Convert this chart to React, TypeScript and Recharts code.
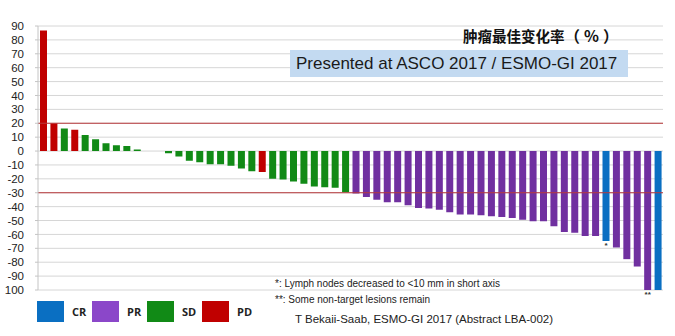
import React from "react";
import { BarChart, Bar, XAxis, YAxis, CartesianGrid, ReferenceLine, Cell, LabelList } from "recharts";

// Best percentage change in tumour size per patient (waterfall)
const patientValues: number[] = [
  86.8, 20, 16.2, 15.4, 11.6, 8.5, 5.6, 4.1, 3.6, 1.2,
  0, 0,
  -1.5, -4, -7, -8, -9.5, -9.5, -10.5, -12.5, -14.5, -15, -20, -20.5, -22, -23.5, -25.5, -26, -26.5, -29.6,
  -30.6, -33, -35, -36.8, -36.8, -39,
  -41, -41.4, -42.2, -44, -45.7, -45.7, -46.2, -47, -47.4, -48.2, -49.4, -50.6,
  -50.5, -54.2, -58.3, -58.8, -61.2, -61.2, -64.8, -69.4, -77.8, -83.1, -100, -100,
];

const patientResponse: string[] = [
  "PD", "PD", "SD", "PD", "SD", "SD", "SD", "SD", "SD", "SD",
  "SD", "SD",
  "SD", "SD", "SD", "SD", "SD", "SD", "SD", "SD", "SD", "PD", "SD", "SD", "SD", "SD", "SD", "SD", "SD", "SD",
  "PR", "PR", "PR", "PR", "PR", "PR",
  "PR", "PR", "PR", "PR", "PR", "PR", "PR", "PR", "PR", "PR", "PR", "PR",
  "PR", "PR", "PR", "PR", "PR", "PR", "CR", "PR", "PR", "PR", "PR", "CR",
];

const patientNotes: string[] = [
  "", "", "", "", "", "", "", "", "", "",
  "", "",
  "", "", "", "", "", "", "", "", "", "", "", "", "", "", "", "", "", "",
  "", "", "", "", "", "",
  "", "", "", "", "", "", "", "", "", "", "", "",
  "", "", "", "", "", "", "*", "", "", "", "**", "",
];

const yTicks: number[] = [-100, -90, -80, -70, -60, -50, -40, -30, -20, -10, 0, 10, 20, 30, 40, 50, 60, 70, 80, 90];
const yTickLabels: string[] = ["100", "-90", "-80", "-70", "-60", "-50", "-40", "-30", "-20", "-10", "0", "10", "20", "30", "40", "50", "60", "70", "80", "90"];

const thresholdLines: number[] = [20, -30];

const legendKeys: string[] = ["CR", "PR", "SD", "PD"];
const barColors: Record<string, string> = { CR: "#0a6fc2", PR: "#7030a0", SD: "#118a16", PD: "#c00000" };
const legendColors: Record<string, string> = { CR: "#0a6fc2", PR: "#8b47c9", SD: "#118a16", PD: "#c00000" };

const chartTitle = "肿瘤最佳变化率";
const chartTitleUnit = "（%）";
const bannerText = "Presented at ASCO 2017 / ESMO-GI 2017";
const footnotes: string[] = [
  "*: Lymph nodes decreased to <10 mm in short axis",
  "**: Some non-target lesions remain",
];
const citation = "T Bekaii-Saab, ESMO-GI 2017 (Abstract LBA-002)";

const data = patientValues.map((v, i) => ({
  id: `P${i + 1}`,
  value: v,
  status: patientResponse[i],
  note: patientNotes[i],
}));

const LATIN = '"Liberation Sans", Arial, sans-serif';
const CJK = '"Noto Sans CJK SC", "Noto Sans", sans-serif';

const NoteLabel = (props: any) => {
  const { x, y, width, height, value } = props;
  if (!value) return null;
  const bottom = Math.max(Number(y), Number(y) + Number(height));
  return (
    <text
      x={Number(x) + Number(width) / 2}
      y={bottom + 7}
      textAnchor="middle"
      fontSize={8}
      fontWeight="bold"
      fontFamily={LATIN}
      fill="#333"
    >
      {value}
    </text>
  );
};

export default function App() {
  return (
    <div
      style={{
        position: "absolute",
        left: 0,
        top: 0,
        width: 675,
        height: 336,
        background: "#ffffff",
        overflow: "hidden",
      }}
    >
      <BarChart
        width={675}
        height={336}
        data={data}
        margin={{ top: 26, right: 12, bottom: 46, left: 0 }}
        barSize={7}
      >
        <CartesianGrid vertical={false} stroke="#d6d6d6" strokeWidth={1} />
        <XAxis dataKey="id" hide />
        <YAxis
          width={38}
          domain={[-100, 90]}
          ticks={yTicks}
          interval={0}
          allowDataOverflow
          axisLine={{ stroke: "#c4c4c4" }}
          tickLine={{ stroke: "#c4c4c4" }}
          tickSize={3}
          tickMargin={11}
          tickFormatter={(v: number) => yTickLabels[yTicks.indexOf(v)] ?? String(v)}
          tick={{ fontSize: 11.5, fill: "#222", fontFamily: LATIN }}
        />
        {thresholdLines.map((t) => (
          <ReferenceLine key={t} y={t} stroke="#b8393b" strokeWidth={1} />
        ))}
        <Bar dataKey="value" isAnimationActive={false}>
          {data.map((d, i) => (
            <Cell key={i} fill={barColors[d.status]} />
          ))}
          <LabelList dataKey="note" content={NoteLabel} />
        </Bar>
      </BarChart>

      {/* Title */}
      <div
        style={{
          position: "absolute",
          left: 463,
          top: 25,
          fontFamily: CJK,
          fontWeight: 700,
          fontSize: 14.5,
          lineHeight: "20px",
          color: "#111",
          whiteSpace: "nowrap",
        }}
      >
        {chartTitle}
        <span style={{ letterSpacing: 4, fontSize: 15.5 }}>{chartTitleUnit}</span>
      </div>

      {/* Banner */}
      <div
        style={{
          position: "absolute",
          left: 290,
          top: 50,
          width: 338,
          height: 27,
          background: "#c3daf1",
          fontFamily: LATIN,
          fontSize: 17,
          lineHeight: "27px",
          color: "#1a1a1a",
          paddingLeft: 6,
          boxSizing: "border-box",
          whiteSpace: "nowrap",
        }}
      >
        {bannerText}
      </div>

      {/* Footnotes */}
      {footnotes.map((f, i) => (
        <div
          key={i}
          style={{
            position: "absolute",
            left: 275,
            top: 277 + i * 16,
            fontFamily: LATIN,
            fontSize: 10,
            lineHeight: "14px",
            color: "#222",
            whiteSpace: "nowrap",
          }}
        >
          {f}
        </div>
      ))}
      <div
        style={{
          position: "absolute",
          left: 295,
          top: 311,
          fontFamily: LATIN,
          fontSize: 11.5,
          lineHeight: "16px",
          color: "#222",
          whiteSpace: "nowrap",
        }}
      >
        {citation}
      </div>

      {/* Legend */}
      {legendKeys.map((k, i) => (
        <div
          key={k}
          style={{
            position: "absolute",
            left: 37 + i * 55,
            top: 301,
            height: 21,
            display: "flex",
            alignItems: "center",
          }}
        >
          <div style={{ width: 27, height: 21, background: legendColors[k] }} />
          <span
            style={{
              marginLeft: 8,
              fontFamily: '"Open Sans", sans-serif',
              fontWeight: 700,
              fontSize: 11,
              color: "#222",
            }}
          >
            {k}
          </span>
        </div>
      ))}
    </div>
  );
}
